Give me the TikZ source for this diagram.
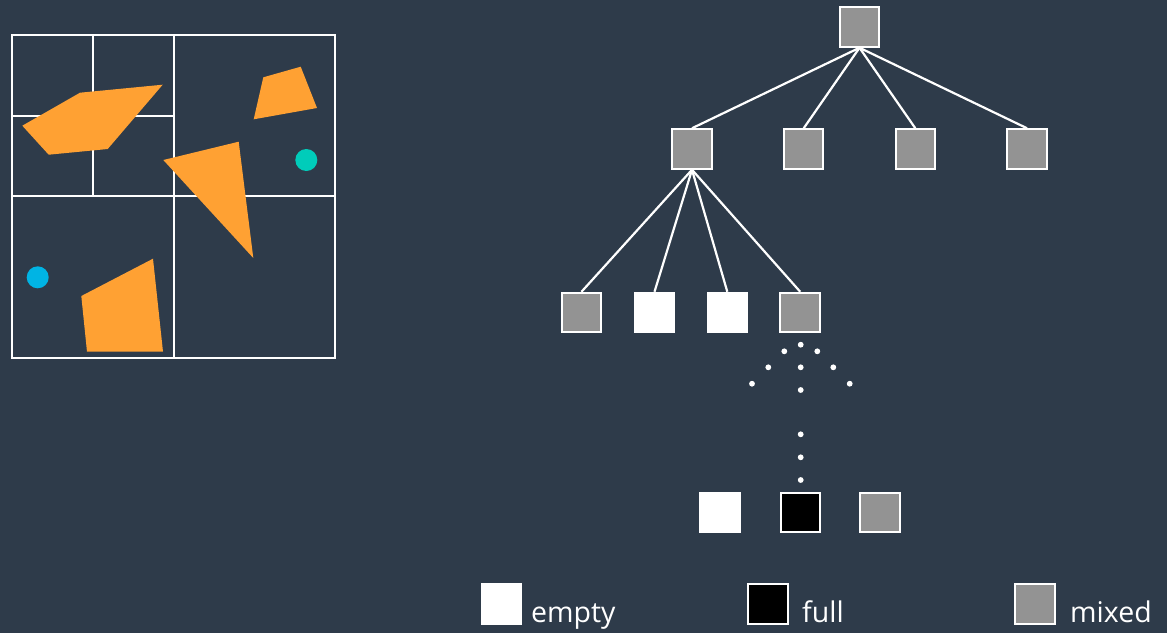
\documentclass[tikz,border=0pt]{standalone}
\usepackage{fontspec}
\setmainfont{Open Sans}
\definecolor{slate}{HTML}{2E3B4A}
\definecolor{cellgray}{HTML}{939393}
\definecolor{blobOrange}{HTML}{FFA133}
\definecolor{teal}{HTML}{00CCBA}
\definecolor{sky}{HTML}{00B4E4}
\begin{document}
\begin{tikzpicture}[x=1pt, y=-1pt, font=\fontsize{28.5}{34}\selectfont]
%% picture measured in pixels of the 1167x633 image, y grows downwards
\tikzstyle{box}=[rectangle,minimum size=39.5pt,inner sep=0pt,draw=white,line width=2pt]
\tikzstyle{mixedBox}=[box,fill=cellgray]
\tikzstyle{emptyBox}=[box,fill=white]
\tikzstyle{fullBox}=[box,fill=black]
\tikzstyle{edge}=[draw=white,line width=2.2pt]
\tikzstyle{grid}=[draw=white,line width=2pt]
\tikzstyle{blob}=[fill=blobOrange]
\tikzstyle{legendText}=[anchor=base west,inner sep=0pt,text=white]
\useasboundingbox (0,0) rectangle (1167,633);
\fill[slate] (0,0) rectangle (1167,633);
%% quadtree of the plane, cells first so the shapes lie on top %%
\draw[grid] (12.3,35) rectangle (335,357.5);
\draw[grid] (173.5,35) -- (173.5,357.5);
\draw[grid] (12.3,196) -- (335,196);
\draw[grid] (93.3,35) -- (93.3,196);
\draw[grid] (12.3,115.7) -- (173.5,115.7);
\fill[blob] (22.3,125.7) -- (80,92.7) -- (162.7,84.7) -- (107.7,149) -- (48.7,154.7) -- cycle;
\fill[blob] (263.3,77.3) -- (300.7,66.7) -- (317,108) -- (253.7,119.3) -- cycle;
\fill[blob] (163.3,160) -- (238.7,141.7) -- (253.3,258) -- cycle;
\fill[blob] (81.3,296) -- (153,258.7) -- (163,351.7) -- (87,351.7) -- cycle;
\fill[teal] (306.3,160) circle (11);
\fill[sky] (37.7,277.3) circle (11);
%% TikZ-figure elements %%
\node[mixedBox] at (859.5,27) (Root) {};
\node[mixedBox] at (692,149) (Root_NW) {};
\node[mixedBox] at (803.7,149) (Root_NE) {};
\node[mixedBox] at (915.3,149) (Root_SW) {};
\node[mixedBox] at (1027,149) (Root_SE) {};
\node[mixedBox] at (581.5,312.5) (NW_NW) {};
\node[emptyBox] at (654.5,312.5) (NW_NE) {};
\node[emptyBox] at (727.3,312.5) (NW_SW) {};
\node[mixedBox] at (800.2,312.5) (NW_SE) {};
\foreach \child in {Root_NW,Root_NE,Root_SW,Root_SE}
  \draw[edge] (Root.south) -- (\child.north);
\foreach \child in {NW_NW,NW_NE,NW_SW,NW_SE}
  \draw[edge] (Root_NW.south) -- (\child.north);
%% dots for the omitted levels
\foreach \dx/\dy in {800.7/344.7,784.3/351.3,817.3/351.3,768.3/367.3,800.7/367.3,833.3/367.3,752/383.7,800.7/390,849.7/383.7,800.7/434.3,800.7/457.3,800.7/480}
  \fill[white] (\dx,\dy) circle (2.9);
\node[emptyBox] at (720.2,512.5) (Leaf_Empty) {};
\node[fullBox] at (800.3,512.5) (Leaf_Full) {};
\node[mixedBox] at (880.2,512.5) (Leaf_Mixed) {};
%% legend
\node[emptyBox] at (501.7,604) (Key_Empty) {};
\node[legendText] at (531,622.3) (Label_Empty) {empty};
\node[fullBox] at (768,604) (Key_Full) {};
\node[legendText] at (802,622.3) (Label_Full) {full};
\node[mixedBox] at (1035,604) (Key_Mixed) {};
\node[legendText] at (1070,622.3) (Label_Mixed) {mixed};
\end{tikzpicture}
\end{document}
